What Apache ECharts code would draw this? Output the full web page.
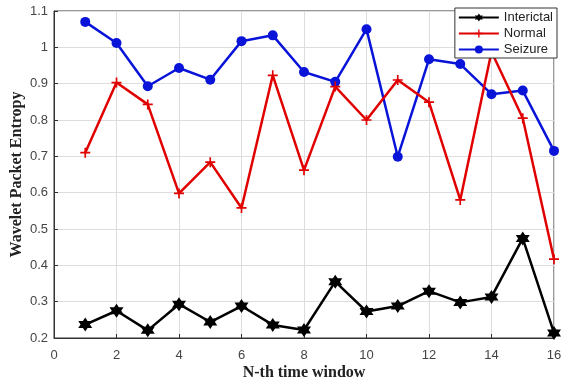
<!DOCTYPE html>
<html><head><meta charset="utf-8">
<script src="https://cdn.jsdelivr.net/npm/echarts@6/dist/echarts.min.js"></script>
<style>html,body{margin:0;padding:0;background:#fff}#c{width:573px;height:387px}</style>
</head><body><div id="c"></div>
<script>
var windows = [1,2,3,4,5,6,7,8,9,10,11,12,13,14,15,16];
var interictal = [0.237,0.275,0.221,0.293,0.244,0.288,0.236,0.222,0.355,0.273,0.288,0.329,0.298,0.313,0.474,0.214];
var normal = [0.710,0.903,0.843,0.598,0.684,0.558,0.923,0.662,0.892,0.800,0.910,0.849,0.580,0.988,0.805,0.417];
var seizure = [1.070,1.012,0.893,0.943,0.911,1.017,1.033,0.932,0.905,1.050,0.699,0.967,0.954,0.871,0.881,0.715];
var names = ['Interictal','Normal','Seizure'];

function pairs(v){ return windows.map(function(x,i){return [x,v[i]];}); }
var star = 'path://M0,-10 L2.9,-5 L8.66,-5 L5.8,0 L8.66,5 L2.9,5 L0,10 L-2.9,5 L-8.66,5 L-5.8,0 L-8.66,-5 L-2.9,-5 Z';
var plus = 'path://M-1,-6 L1,-6 L1,-1 L6,-1 L6,1 L1,1 L1,6 L-1,6 L-1,1 L-6,1 L-6,-1 L-1,-1 Z';
var tickFont = {color:'#444', fontSize:13, fontFamily:'Liberation Sans, Arial'};
var chart = echarts.init(document.getElementById('c'));
chart.setOption({
  animation:false,
  grid:{left:54, right:19, top:11, bottom:49, show:true, borderColor:'#333', borderWidth:1, outerBoundsMode:'none', containLabel:false},
  legend:{
    right:16, top:8, orient:'vertical', itemGap:3, itemWidth:40, itemHeight:10,
    backgroundColor:'#fff', borderColor:'#333', borderWidth:1, padding:[3,4,2,3],
    textStyle:{fontSize:13, color:'#222', fontFamily:'Liberation Sans, Arial'},
    data:names
  },
  xAxis:[{
    type:'value', min:0, max:16, interval:2,
    axisLine:{show:true, lineStyle:{color:'#333'}}, axisTick:{show:true, inside:true, length:4, lineStyle:{color:'#333'}},
    axisLabel:Object.assign({margin:11}, tickFont),
    splitLine:{show:true, lineStyle:{color:'#ddd'}},
    name:'N-th time window', nameLocation:'middle', nameGap:27, nameMoveOverlap:false,
    nameTextStyle:{fontFamily:'Liberation Serif, Times New Roman', fontWeight:'bold', fontSize:16, color:'#222'}
  }],
  yAxis:[{
    type:'value', min:0.2, max:1.1, interval:0.1,
    axisLine:{show:true, lineStyle:{color:'#333'}}, axisTick:{show:true, inside:true, length:4, lineStyle:{color:'#333'}},
    axisLabel:Object.assign({margin:6, formatter:function(v){return String(Math.round(v*10)/10);}}, tickFont),
    splitLine:{show:true, lineStyle:{color:'#ddd'}},
    name:'Wavelet Packet Entropy', nameLocation:'middle', nameGap:29, nameMoveOverlap:false,
    nameTextStyle:{fontFamily:'Liberation Serif, Times New Roman', fontWeight:'bold', fontSize:16, color:'#222'}
  }],
  series:[
    {name:names[0], type:'line', data:pairs(interictal), symbol:star, symbolSize:14,
     lineStyle:{color:'#000', width:2.5}, itemStyle:{color:'#000'}, z:3},
    {name:names[1], type:'line', data:pairs(normal), symbol:plus, symbolSize:10,
     lineStyle:{color:'#e00000', width:2.5}, itemStyle:{color:'#e00000'}, z:2},
    {name:names[2], type:'line', data:pairs(seizure), symbol:'circle', symbolSize:10,
     lineStyle:{color:'#0a14d8', width:2.5}, itemStyle:{color:'#0a14d8'}, z:1}
  ]
});
</script></body></html>
